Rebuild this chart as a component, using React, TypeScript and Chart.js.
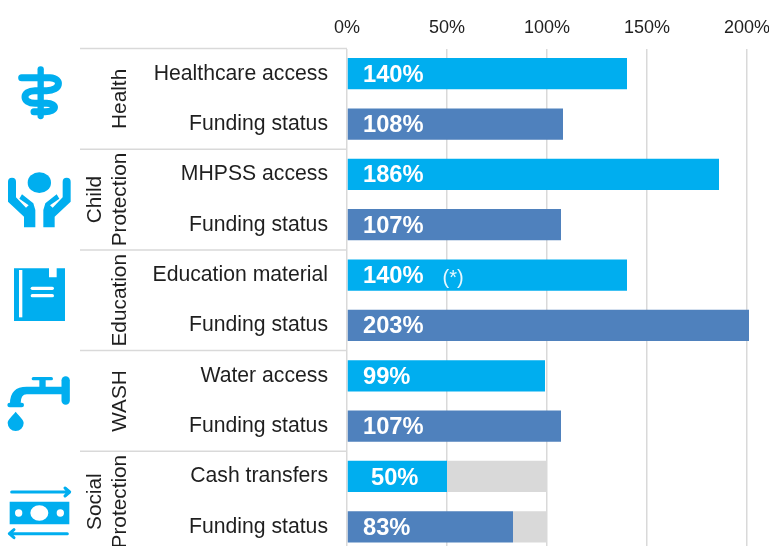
import React, { useEffect, useRef } from "react";
import { Chart, registerables } from "chart.js";

Chart.register(...registerables);

const categories = [
  "Healthcare access", "Funding status",
  "MHPSS access", "Funding status",
  "Education material", "Funding status",
  "Water access", "Funding status",
  "Cash transfers", "Funding status",
];
const values = [140, 108, 186, 107, 140, 203, 99, 107, 50, 83];
const remainder = [0, 0, 0, 0, 0, 0, 0, 0, 50, 17];
const notes = ["", "", "", "", "(*)", "", "", "", "", ""];
const groups = [["Health"], ["Child", "Protection"], ["Education"], ["WASH"], ["Social", "Protection"]];
const xTicks = [0, 50, 100, 150, 200];

const CYAN = "#00AEEF";
const BLUE = "#4F81BD";
const GREY = "#D9D9D9";
const TEXT = "#1F1F1F";
const FONT = "'Liberation Sans', Arial, sans-serif";

const labelsPlugin = {
  id: "barLabels",
  afterDatasetsDraw(chart: any) {
    const ctx = chart.ctx;
    const meta = chart.getDatasetMeta(0);
    const x0 = chart.scales.x.getPixelForValue(0);
    ctx.save();
    ctx.textBaseline = "middle";
    ctx.textAlign = "left";
    meta.data.forEach((bar: any, i: number) => {
      const pad = values[i] === 50 ? 24 : 16;
      const text = `${values[i]}%`;
      ctx.fillStyle = "#FFFFFF";
      ctx.font = `bold 23.7px ${FONT}`;
      ctx.fillText(text, x0 + pad, bar.y + 1.5);
      if (notes[i]) {
        const w = ctx.measureText(text).width;
        ctx.font = `20px ${FONT}`;
        ctx.fillStyle = "#E6F7FE";
        ctx.fillText(notes[i], x0 + pad + w + 19, bar.y + 3);
      }
    });
    ctx.restore();
  },
};

const groupsPlugin = {
  id: "groupAxis",
  afterDraw(chart: any) {
    const ctx = chart.ctx;
    const { top } = chart.chartArea;
    const y = chart.scales.y;
    const rowH = y.getPixelForValue(1) - y.getPixelForValue(0);
    const x0 = chart.scales.x.getPixelForValue(0);
    ctx.save();
    groups.forEach((lines, g) => {
      const yTop = top + g * 2 * rowH;
      ctx.strokeStyle = GREY;
      ctx.lineWidth = 1.5;
      ctx.beginPath();
      ctx.moveTo(80, yTop);
      ctx.lineTo(x0, yTop);
      ctx.stroke();
      ctx.save();
      ctx.translate(0, yTop + rowH);
      ctx.rotate(-Math.PI / 2);
      ctx.font = `20.8px ${FONT}`;
      ctx.fillStyle = TEXT;
      ctx.textAlign = "center";
      ctx.textBaseline = "middle";
      lines.forEach((line, l) => {
        const cx = 120 - (lines.length - 1 - l) * 24.5;
        ctx.fillText(line, 0, cx);
      });
      ctx.restore();
    });
    ctx.restore();
  },
};

function drawIcons(ctx: CanvasRenderingContext2D) {
  const fill = (d: string, rule: CanvasFillRule = "nonzero") => ctx.fill(new Path2D(d), rule);
  const stroke = (d: string, w: number) => {
    ctx.lineWidth = w;
    ctx.stroke(new Path2D(d));
  };
  ctx.save();
  ctx.fillStyle = CYAN;
  ctx.strokeStyle = CYAN;
  ctx.lineCap = "round";
  ctx.lineJoin = "round";

  // Health, child protection, book top: coordinates of the 3x crop from y=40
  ctx.save();
  ctx.translate(0, 40);
  ctx.scale(1 / 3, 1 / 3);
  stroke("M122 88 V228", 19);
  stroke("M65 113 H150 C188 115 182 152 140 152 H105 C65 152 65 190 105 190 H140 C172 190 172 215 135 215 H102", 21);
  const hand = (m: (x: number) => number) =>
    `M${m(24)} 425 Q${m(24)} 413 ${m(36)} 413 Q${m(48)} 413 ${m(48)} 425 L${m(48)} 472 L${m(78)} 503 L${m(86)} 496 L${m(58)} 476 L${m(66)} 463 L${m(100)} 490 L${m(106)} 510 L${m(106)} 562 L${m(72)} 562 L${m(72)} 530 L${m(24)} 485 Z`;
  fill(hand((x) => x));
  fill(hand((x) => 236 - x));
  ctx.beginPath();
  ctx.ellipse(118, 428, 35, 31, 0, 0, Math.PI * 2);
  ctx.fill();
  ctx.restore();

  // Book, faucet, money: coordinates of the 3x crop from y=290
  ctx.save();
  ctx.translate(0, 290);
  ctx.scale(1 / 3, 1 / 3);
  fill("M42 -65 H147 V-38 H170 V-65 H195 V93 H42 Z");
  ctx.fillStyle = "#FFFFFF";
  fill("M57 -60 H67 V82 H57 Z");
  ctx.strokeStyle = "#FFFFFF";
  stroke("M97 -5 H157", 10);
  stroke("M97 17 H157", 10);
  ctx.fillStyle = CYAN;
  ctx.strokeStyle = CYAN;
  stroke("M100 266 H154", 10);
  fill("M118 266 H137 V292 H118 Z");
  fill("M190 290 H80 Q30 290 30 340 H62 Q62 313 80 313 H190 Z");
  stroke("M29 345 H65", 14);
  stroke("M197 271 V332", 25);
  fill("M47 365 C58 380 71 388 71 399 A24 24 0 0 1 23 399 C23 388 36 380 47 365 Z");
  fill("M29 635 H208 V703 H29 Z");
  ctx.fillStyle = "#FFFFFF";
  ctx.beginPath();
  ctx.ellipse(118, 669, 27, 23, 0, 0, Math.PI * 2);
  ctx.moveTo(67, 669);
  ctx.arc(56, 669, 11, 0, Math.PI * 2);
  ctx.moveTo(192, 669);
  ctx.arc(181, 669, 11, 0, Math.PI * 2);
  ctx.fill();
  stroke("M35 606 H205 M195 594 L209 606 L195 618", 9);
  stroke("M202 731 H32 M42 719 L28 731 L42 743", 9);
  ctx.restore();
  ctx.restore();
}

const iconsPlugin = {
  id: "icons",
  afterDraw(chart: any) {
    drawIcons(chart.ctx);
  },
};

export default function App() {
  const ref = useRef<HTMLCanvasElement>(null);
  useEffect(() => {
    const colors = values.map((_, i) => (i % 2 === 0 ? CYAN : BLUE));
    const chart = new Chart(ref.current!, {
      type: "bar",
      data: {
        labels: categories,
        datasets: [
          { data: values, backgroundColor: colors, barPercentage: 0.62, categoryPercentage: 1, stack: "s" },
          { data: remainder, backgroundColor: GREY, barPercentage: 0.62, categoryPercentage: 1, stack: "s" },
        ],
      },
      options: {
        indexAxis: "y",
        animation: false,
        responsive: false,
        layout: { padding: { left: 0, right: 20, top: 0, bottom: 0 } },
        plugins: { legend: { display: false }, title: { display: false }, tooltip: { enabled: false } },
        scales: {
          x: {
            position: "top",
            stacked: true,
            min: 0,
            max: 201,
            afterFit(s: any) { s.height = 48.5; s.paddingLeft = 0; s.paddingRight = 0; },
            afterBuildTicks(s: any) { s.ticks = xTicks.map((value) => ({ value })); },
            grid: { color: GREY, lineWidth: 1.5, drawTicks: false },
            border: { display: false },
            ticks: {
              padding: 10,
              maxRotation: 0,
              font: { family: FONT, size: 18 },
              color: TEXT,
              callback: (v: any) => `${v}%`,
            },
          },
          y: {
            stacked: true,
            afterFit(s: any) { s.width = 347; s.paddingTop = 0; s.paddingBottom = 0; },
            grid: { display: false, drawTicks: false },
            border: { display: false },
            ticks: {
              padding: 19,
              autoSkip: false,
              font: { family: FONT, size: 21.2 },
              color: TEXT,
            },
          },
        },
      },
      plugins: [labelsPlugin, groupsPlugin, iconsPlugin],
    } as any);
    return () => chart.destroy();
  }, []);
  return (
    <div style={{ position: "fixed", left: 0, top: 0, width: 769, height: 546, overflow: "hidden", background: "#fff" }}>
      <canvas ref={ref} width={769} height={552.5} style={{ display: "block" }} />
    </div>
  );
}
